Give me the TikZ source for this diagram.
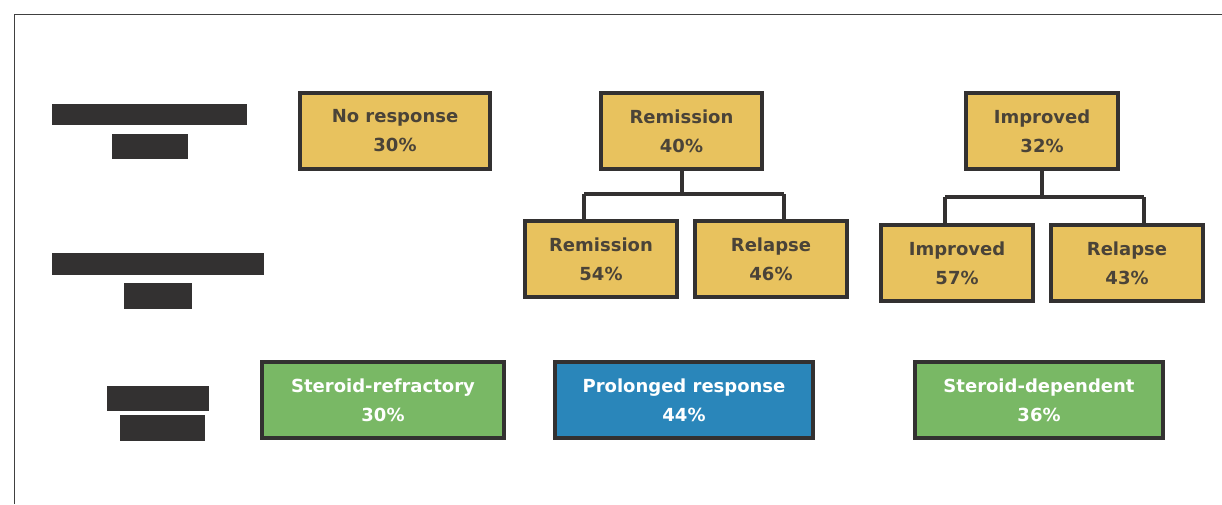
\documentclass[tikz,border=0pt]{standalone}
\usepackage{fontspec}
\setmainfont{DejaVu Sans}
\definecolor{boxline}{HTML}{333131}
\definecolor{ochre}{HTML}{E8C25E}
\definecolor{leaf}{HTML}{79B865}
\definecolor{sea}{HTML}{2A86BA}
\definecolor{ink}{HTML}{4A4338}
\tikzset{
  stage/.style={draw=boxline, line width=4pt, inner sep=0pt, align=center,
    font=\bfseries\fontsize{18}{29}\selectfont},
  yellowbox/.style={stage, fill=ochre, text=ink},
  greenbox/.style={stage, fill=leaf, text=white},
  bluebox/.style={stage, fill=sea, text=white},
  bar/.style={fill=boxline},
  link/.style={draw=boxline, line width=4pt}
}
\begin{document}
\begin{tikzpicture}[x=1pt,y=-1pt]
        \useasboundingbox (0,0) rectangle (1222,504);
        \draw[darkgray, line width=1pt] (14,504) -- (14,14) -- (1222,14);
        % row labels (blacked out)
        \fill[bar] (52,104) rectangle (247,125);
        \fill[bar] (112,134) rectangle (188,159);
        \fill[bar] (52,253) rectangle (264,275);
        \fill[bar] (124,283) rectangle (192,309);
        \fill[bar] (107,386) rectangle (209,411);
        \fill[bar] (120,415) rectangle (205,441);
        % first response
        \node[yellowbox, minimum width=190, minimum height=76] (nores) at (395,131) {No response\\30\%};
        \node[yellowbox, minimum width=161, minimum height=76] (remis) at (681.5,131) {Remission\\40\%};
        \node[yellowbox, minimum width=152, minimum height=76] (impr) at (1042,131) {Improved\\32\%};
        % second response
        \node[yellowbox, minimum width=152, minimum height=76] (remisA) at (601,259) {Remission\\54\%};
        \node[yellowbox, minimum width=152, minimum height=76] (relA) at (771,259) {Relapse\\46\%};
        \node[yellowbox, minimum width=152, minimum height=76] (imprB) at (957,263) {Improved\\57\%};
        \node[yellowbox, minimum width=152, minimum height=76] (relB) at (1127,263) {Relapse\\43\%};
        % outcome
        \node[greenbox, minimum width=242, minimum height=76] (refr) at (383,400) {Steroid-refractory\\30\%};
        \node[bluebox, minimum width=258, minimum height=76] (prol) at (684,400) {Prolonged response\\44\%};
        \node[greenbox, minimum width=248, minimum height=76] (depd) at (1039,400) {Steroid-dependent\\36\%};
        % tree lines
        \coordinate (remL) at (584,194);
        \coordinate (remR) at (784,194);
        \coordinate (impL) at (945,197);
        \coordinate (impR) at (1144,197);
        \draw[link] (remis.south) -- (remis.south |- remL);
        \draw[link] (remL) -- (remR);
        \draw[link] (remL) -- (remL |- remisA.north);
        \draw[link] (remR) -- (remR |- relA.north);
        \draw[link] (impr.south) -- (impr.south |- impL);
        \draw[link] (impL) -- (impR);
        \draw[link] (impL) -- (impL |- imprB.north);
        \draw[link] (impR) -- (impR |- relB.north);
    \end{tikzpicture}
\end{document}
